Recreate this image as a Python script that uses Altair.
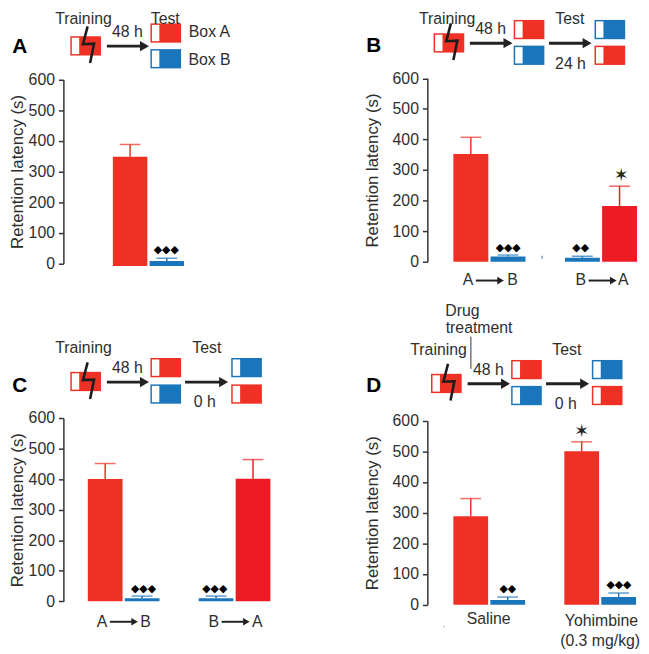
import altair as alt
import pandas as pd

RED, RED2, BLUE = "#EE3124", "#ED1C24", "#1B75BB"
FONT = "Liberation Sans"
INK = "#2e2e2e"

# ---- bar values
slots_a = ["Box A", "Box B"]
vals_a = [348, 8]
errs_a = [388, 17]
base_a = [-8, -8]
cols_a = ["red", "blue"]

slots_b = ["A-B red", "A-B blue", "gap", "B-A blue", "B-A red"]
use_b = ["A-B red", "A-B blue", "B-A blue", "B-A red"]
vals_b = [352, 17, 13, 182]
errs_b = [407, 22, 18, 247]
base_b = [0, 0, 0, 0]
cols_b = ["red", "blue", "blue", "red2"]

slots_c = ["A-B red", "A-B blue", "gap", "B-A blue", "B-A red"]
use_c = ["A-B red", "A-B blue", "B-A blue", "B-A red"]
vals_c = [400, 10, 10, 401]
errs_c = [451, 17, 17, 464]
base_c = [0, 0, 0, 0]
cols_c = ["red", "blue", "blue", "red2"]

slots_d = ["Saline red", "Saline blue", "gap", "Yoh red", "Yoh blue"]
use_d = ["Saline red", "Saline blue", "Yoh red", "Yoh blue"]
vals_d = [288, 15, 500, 25]
errs_d = [346, 25, 531, 38]
base_d = [0, 0, 0, 0]
cols_d = ["red", "blue", "red", "blue"]

ticks = [0, 100, 200, 300, 400, 500, 600]
COLOR = alt.Color("c:N", legend=None,
                  scale=alt.Scale(domain=["red", "red2", "blue", "white"],
                                  range=[RED, RED2, BLUE, "white"]))


def box(x0, y0, c, w=31, h=19.5):
    return [
        dict(x=x0, x2=x0 + w, y=y0, y2=y0 + h, c=c),
        dict(x=x0 + 1.5, x2=x0 + 9, y=y0 + 1.5, y2=y0 + h - 1.5, c="white"),
    ]


def bolt(dx, dy, n):
    pts = [(87.5, 23), (82.8, 41), (94, 40.5), (90, 60)]
    return [dict(x=p[0] + dx, y=p[1] + dy, id=n, i=i) for i, p in enumerate(pts)]


def panel(slots, use, vals, errs, base, cols, ox, oy, W, H, y0, y600, xr, tpad,
          boxes, bolts, arrows, small_arrows, texts, letter, diamonds, stars, lines, anchor=None):
    d = pd.DataFrame(dict(s=use, v=vals, e=errs, b=base, c=cols))
    X = alt.X("s:N", axis=None,
              scale=alt.Scale(domain=slots, range=[xr[0] - ox, xr[1] - ox], paddingInner=0.06, paddingOuter=0))
    ys = alt.Scale(domain=[0, 600], range=[y0 - oy, y600 - oy], nice=False, zero=False)
    ax = alt.Axis(values=ticks, title="Retention latency (s)", grid=False,
                  labelFont=FONT, labelFontSize=16, labelColor=INK, labelPadding=4,
                  titleFont=FONT, titleFontSize=17, titleFontWeight="normal", titleColor=INK,
                  titlePadding=tpad, tickSize=5, tickWidth=1.5, tickColor="#333333",
                  domainWidth=1.5, domainColor="#333333")
    Y = alt.Y("v:Q", scale=ys, axis=ax)
    bars = alt.Chart(d).mark_bar().encode(x=X, y=Y, y2=alt.Y2("b:Q"), color=COLOR)
    err = alt.Chart(d).mark_rule(strokeWidth=1.5).encode(x=X, y=Y, y2=alt.Y2("e:Q"), color=COLOR)
    cap = alt.Chart(d).mark_tick(size=21, thickness=1.5).encode(
        x=X, y=alt.Y("e:Q", scale=ys, axis=ax), color=COLOR)
    data_layer = alt.layer(bars, err, cap)

    PX = alt.Scale(domain=[ox, ox + W], nice=False, zero=False)
    PY = alt.Scale(domain=[oy + H, oy], nice=False, zero=False)
    xf = alt.X("x:Q", scale=PX, axis=None)
    yf = alt.Y("y:Q", scale=PY, axis=None)

    layers = [
        alt.Chart(pd.DataFrame(boxes)).mark_rect().encode(x=xf, x2="x2:Q", y=yf, y2="y2:Q", color=COLOR),
        alt.Chart(pd.DataFrame(bolts)).mark_line(color="#1c1c1c", strokeWidth=2.6, strokeJoin="miter").encode(
            x=xf, y=yf, detail="id:N", order="i:Q"),
        alt.Chart(pd.DataFrame(arrows)).mark_rule(color="#222222", strokeWidth=3).encode(x=xf, x2="x2:Q", y=yf),
        alt.Chart(pd.DataFrame(arrows)).mark_point(shape="triangle-right", filled=True, opacity=1,
                                                   color="#222222", size=110).encode(
            x=alt.X("x2:Q", scale=PX, axis=None), y=yf),
        alt.Chart(pd.DataFrame(texts)).mark_text(font=FONT, fontSize=16, color=INK).encode(x=xf, y=yf, text="t:N"),
        alt.Chart(pd.DataFrame([letter])).mark_text(font=FONT, fontSize=21, fontWeight="bold", color="black").encode(
            x=xf, y=yf, text="t:N"),
        alt.Chart(pd.DataFrame(diamonds)).mark_text(font="DejaVu Sans", fontSize=11, color="black").encode(
            x=xf, y=yf, text="t:N"),
    ]
    if small_arrows:
        layers += [
            alt.Chart(pd.DataFrame(small_arrows)).mark_rule(color="#222222", strokeWidth=2).encode(
                x=xf, x2="x2:Q", y=yf),
            alt.Chart(pd.DataFrame(small_arrows)).mark_point(shape="triangle-right", filled=True, opacity=1,
                                                             color="#222222", size=60).encode(
                x=alt.X("x2:Q", scale=PX, axis=None), y=yf),
        ]
    if stars:
        layers.append(alt.Chart(pd.DataFrame(stars)).mark_text(font="DejaVu Sans", fontSize=18, color="#222222").encode(
            x=xf, y=yf, text="t:N"))
    if lines:
        layers.append(alt.Chart(pd.DataFrame(lines)).mark_rule(color="#333333", strokeWidth=1).encode(
            x=xf, y=yf, y2="y2:Q"))
    if anchor:
        layers.append(alt.Chart(pd.DataFrame(anchor)).mark_rule(opacity=0, strokeWidth=0).encode(
            x=xf, y=yf, y2="y2:Q"))
    return alt.layer(data_layer, alt.layer(*layers)).resolve_scale(
        x="independent", y="independent").properties(width=W, height=H)


def T(x, y, t):
    return dict(x=x, y=y, t=t)


A = panel(slots_a, slots_a, vals_a, errs_a, base_a, cols_a, 63, 8, 368, 312, 262.7, 76.7, (113, 185), 2,
          box(70, 33, "red") + box(151, 20, "red") + box(151, 46, "blue"),
          bolt(0, 0, 1),
          [dict(x=107, x2=145, y=43)], [],
          [T(83.3, 16, "Training"), T(127.7, 29, "48 h"), T(166, 16, "Test"),
           T(210.7, 29, "Box A"), T(210.7, 57.5, "Box B")],
          T(19, 44, "A"),
          [T(167, 249, "◆◆◆")], [], [],
          anchor=[dict(x=8, y=100, y2=101)])

B = panel(slots_b, use_b, vals_b, errs_b, base_b, cols_b, 431, 8, 212, 312, 261, 75.5, (457.3, 643), 11,
          box(437.3, 30, "red") + box(518.3, 16.5, "red") + box(518.3, 42.5, "blue")
          + box(600, 16.5, "blue") + box(600, 42.5, "red")
          + [dict(x=546.5, x2=547.5, y=255, y2=258, c="blue")],
          bolt(367.3, -3, 1),
          [dict(x=474, x2=512.5, y=40), dict(x=554, x2=592.5, y=40)],
          [dict(x=480, x2=505, y=280), dict(x=594, x2=619, y=280)],
          [T(451, 16, "Training"), T(495, 26, "48 h"), T(575, 16, "Test"), T(575.7, 61, "24 h"),
           T(472, 280, "A"), T(517, 280, "B"), T(586, 280, "B"), T(629, 280, "A")],
          T(376.7, 43, "B"),
          [T(512.7, 246.7, "◆◆◆"), T(586, 246.7, "◆◆")],
          [T(627, 174, "✶")], [])

C = panel(slots_c, use_c, vals_c, errs_c, base_c, cols_c, 63, 320, 368, 330, 604.3, 419, (87.7, 272.3), 2,
          box(70, 372.3, "red") + box(151, 358.3, "red") + box(151, 385, "blue")
          + box(232.7, 358.3, "blue") + box(232.7, 385, "red"),
          bolt(0, 339.7, 1),
          [dict(x=107, x2=145, y=382.7), dict(x=186, x2=225, y=382.7)],
          [dict(x=110, x2=135, y=625), dict(x=223, x2=248, y=625)],
          [T(83.3, 348.3, "Training"), T(127.7, 368.3, "48 h"), T(208, 348.3, "Test"), T(206, 402.7, "0 h"),
           T(102, 625, "A"), T(146, 625, "B"), T(215, 625, "B"), T(259, 625, "A")],
          T(19, 386.7, "C"),
          [T(144, 591.7, "◆◆◆"), T(216, 591.7, "◆◆◆")], [], [])

D = panel(slots_d, use_d, vals_d, errs_d, base_d, cols_d, 431, 320, 212, 330, 607.7, 421.7, (457.3, 642), 11,
          box(434.7, 374.3, "red") + box(515.7, 360.3, "red") + box(515.7, 386.5, "blue")
          + box(597.3, 360.3, "blue") + box(597.3, 386.5, "red")
          + [dict(x=447.2, x2=448.2, y=629.5, y2=630.5, c="blue")],
          bolt(364.4, 341.3, 1),
          [dict(x=471.7, x2=510, y=384.3), dict(x=551, x2=590, y=384.3)], [],
          [T(442.3, 350, "Training"), T(492.7, 370, "48 h"), T(572, 350, "Test"), T(571, 405, "0 h"),
           T(466.5, 311, "Drug"), T(483.3, 328.3, "treatment"),
           T(493, 622.7, "Saline"), T(607, 624, "Yohimbine"), T(605.7, 644, "(0.3 mg/kg)")],
          T(376.7, 386.7, "D"),
          [T(512.3, 591.7, "◆◆"), T(624.7, 588.3, "◆◆◆")],
          [T(587, 432.7, "✶")],
          [dict(x=475, y=336.7, y2=369.3)])

chart = alt.concat(A, B, C, D, columns=2, spacing=0, bounds="flush").properties(padding=0).configure_view(stroke=None)
chart.save("out.html", embed_options={"renderer": "svg", "actions": False})
